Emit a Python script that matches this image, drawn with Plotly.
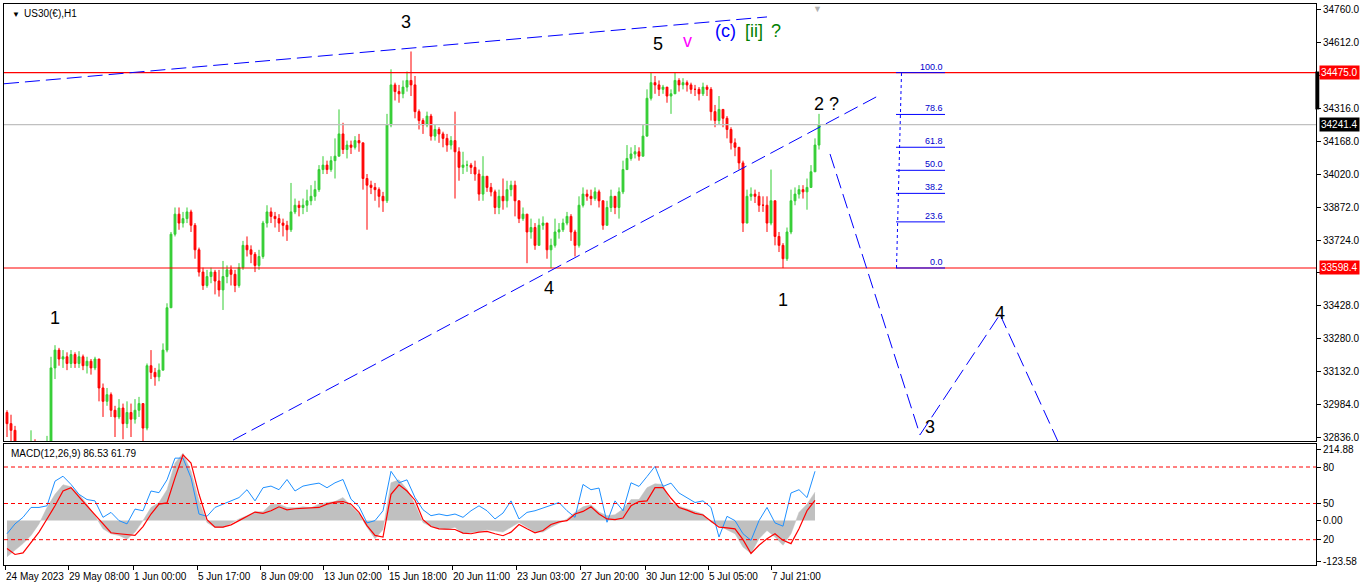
import plotly.graph_objects as go

# ---------------- DATA (4-hour buckets of the H1 chart) -------------
first_open = 32950
closes = [32900, 32870, 32810, 32770, 32750, 32760, 32800, 32780, 32760, 32770,
          32810, 33150, 33230, 33190, 33200, 33170, 33210, 33170, 33200, 33160,
          33180, 33150, 33190, 33060, 33000, 33030, 32960, 32930, 32970, 32900,
          32950, 32920, 32960, 32990, 32880, 33160, 33130, 33110, 33140, 33230,
          33420, 33750, 33840, 33800, 33820, 33850, 33790, 33680, 33580, 33520,
          33560, 33580, 33540, 33500, 33560, 33590, 33570, 33520, 33600, 33700,
          33680, 33660, 33610, 33650, 33800, 33850, 33830, 33820, 33800, 33790,
          33770, 33850, 33880, 33870, 33880, 33900, 33920, 33950, 34040, 34060,
          34040, 34080, 34100, 34200, 34130, 34150, 34140, 34170, 34160, 34000,
          33970, 33960, 33950, 33920, 33900, 34240, 34420, 34390, 34380, 34410,
          34440, 34420, 34300, 34260, 34240, 34280, 34190, 34220, 34200, 34180,
          34150, 34170, 34120, 34050, 34060, 34060, 34050, 34020, 33930, 34010,
          33960, 33940, 33870, 33920, 33900, 33950, 33970, 33900, 33820, 33840,
          33760, 33780, 33700, 33790, 33800, 33680, 33700, 33760, 33770, 33800,
          33830, 33760, 33700, 33880, 33930, 33920, 33910, 33940, 33900, 33790,
          33870, 33920, 33870, 33940, 34040, 34090, 34110, 34120, 34100, 34190,
          34360, 34430, 34420, 34400, 34410, 34370, 34380, 34440, 34420, 34430,
          34420, 34400, 34400, 34380, 34410, 34400, 34300, 34260, 34310, 34270,
          34220, 34160, 34140, 34070, 33800, 33920, 33930, 33920, 33880, 33880,
          33800, 33900, 33740, 33700, 33640, 33760, 33900, 33930, 33950, 33940,
          33960, 34030, 34150, 34241.4]
highs = [32960, 32940, 32890, 32820, 32800, 32810, 32870, 32830, 32800, 32810,
         32845, 33200, 33252, 33240, 33230, 33220, 33230, 33220, 33225, 33210,
         33200, 33190, 33200, 33160, 33080, 33060, 33040, 32980, 33010, 32990,
         33000, 32990, 33010, 33020, 32990, 33170, 33230, 33150, 33170, 33260,
         33440, 33760, 33870, 33870, 33850, 33870, 33860, 33800, 33690, 33600,
         33590, 33600, 33590, 33590, 33630, 33610, 33610, 33590, 33620, 33720,
         33740, 33700, 33670, 33680, 33810, 33880, 33870, 33850, 33840, 33820,
         33810, 33980, 33910, 33900, 33910, 33950, 33970, 33990, 34060, 34100,
         34080, 34100, 34180, 34310, 34250, 34170, 34170, 34190, 34200, 34160,
         34020, 33990, 33980, 33960, 33940, 34290, 34490, 34430, 34420, 34440,
         34480, 34570, 34460, 34310, 34270, 34300, 34290, 34240, 34230, 34210,
         34200, 34190, 34300, 34140, 34120, 34080, 34070, 34080, 34040, 34100,
         34010, 33980, 33950, 33950, 34000, 33990, 33990, 33990, 33860, 33870,
         33840, 33820, 33800, 33820, 33830, 33790, 33730, 33820, 33800, 33820,
         33850, 33840, 33770, 33920, 33960, 33950, 33950, 33960, 33950, 33900,
         33900, 33950, 33920, 33960, 34080, 34150, 34140, 34150, 34140, 34240,
         34400, 34475, 34460, 34440, 34420, 34410, 34400, 34475, 34450, 34450,
         34440, 34430, 34420, 34410, 34430, 34420, 34410, 34330, 34370, 34310,
         34280, 34230, 34180, 34140, 34080, 33950, 33960, 33950, 33940, 33920,
         33920, 34040, 33900, 33760, 33710, 33780, 33950, 33960, 33970, 33970,
         34000, 34060, 34180, 34290]
lows = [32840, 32820, 32760, 32730, 32710, 32720, 32760, 32740, 32720, 32730,
        32770, 32800, 33100, 33160, 33150, 33140, 33150, 33150, 33150, 33140,
        33125, 33120, 33140, 33000, 32930, 32980, 32930, 32840, 32920, 32830,
        32880, 32840, 32900, 32930, 32820, 32870, 33100, 33070, 33090, 33140,
        33220, 33420, 33740, 33770, 33780, 33800, 33760, 33640, 33560, 33500,
        33510, 33530, 33480, 33470, 33410, 33530, 33520, 33490, 33510, 33590,
        33650, 33620, 33580, 33590, 33640, 33780, 33800, 33780, 33760, 33740,
        33720, 33760, 33840, 33830, 33840, 33850, 33880, 33900, 33940, 34020,
        34020, 34030, 34000, 34130, 34110, 34090, 34110, 34130, 34120, 33950,
        33770, 33930, 33900, 33870, 33850, 33890, 34230, 34350, 34340, 34360,
        34390, 34370, 34270, 34220, 34200, 34230, 34170, 34170, 34160, 34140,
        34120, 34130, 33910, 33990, 34020, 34030, 34020, 33990, 33900, 33900,
        33940, 33920, 33840, 33840, 33860, 33870, 33920, 33830, 33800, 33810,
        33620, 33730, 33680, 33700, 33770, 33640, 33598, 33690, 33730, 33760,
        33790, 33720, 33650, 33690, 33870, 33900, 33880, 33900, 33870, 33770,
        33790, 33850, 33840, 33820, 33930, 34050, 34080, 34090, 34080, 34100,
        34190, 34350, 34380, 34370, 34380, 34340, 34290, 34380, 34390, 34400,
        34390, 34380, 34370, 34350, 34370, 34370, 34260, 34230, 34240, 34230,
        34180, 34130, 34100, 34040, 33760, 33830, 33900, 33890, 33850, 33850,
        33760, 33790, 33700, 33670, 33598, 33630, 33750, 33880, 33910, 33910,
        33860, 33960, 34030, 34130]

# MACD panel, one value per 8 hours
macd_hist = [-110, -90, -70, -45, -10, 40, 80, 109, 103, 80,
             50, 15, -25, -40, -45, -57, -35, 0, 40, 55,
             94, 175, 205, 150, 60, -6, -21, -21, -8, 5,
             15, 27, 27, 50, 50, 40, 39, 42, 39, 50,
             55, 58, 70, 45, 20, -20, -55, -27, 115, 124,
             95, 50, -6, -18, -25, -27, -20, -40, -37, -33,
             -28, -32, -35, -20, -6, -20, -35, -35, -20, -8,
             5, 25, 42, 48, 26, 15, 18, 35, 64, 64,
             100, 112, 110, 55, 44, 36, 28, 20, -5, -15,
             -28, -40, -80, -100, -55, -30, -50, -75, -40, 25,
             50, 86.53]
macd_signal = [-85, -103, -98, -65, -35, 5, 45, 90, 100, 72,
               45, 18, -12, -37, -40, -42, -45, -18, 20, 50,
               54, 130, 200, 175, 80, 3, -20, -20, -13, 0,
               13, 26, 22, 30, 42, 33, 36, 38, 38, 40,
               50, 56, 58, 50, 25, -15, -45, -50, 80, 109,
               90, 62, 3, -18, -25, -27, -27, -38, -40, -35,
               -33, -40, -46, -35, -12, -25, -37, -30, -12, -4,
               0, 20, 28, 42, 20, 5, 3, 8, 45, 58,
               60, 100, 100, 68, 40, 32, 22, 17, -2, -20,
               -22, -25, -58, -100, -75, -55, -40, -60, -70, -25,
               30, 61.79]
blue_line = [-40, -10, 10, 40, 40, 45, 120, 135, 110, 80,
             64, 60, 10, 25, 0, -10, 35, 30, 90, 85,
             124, 190, 190, 130, 20, 13, 40, 50, 58, 70,
             94, 60, 100, 105, 94, 125, 90, 105, 110, 114,
             100, 115, 125, 65, 43, -7, 0, 30, 150, 115,
             124, 70, 33, 15, 20, 15, 20, 10, 30, 45,
             30, 5, 23, 60, 5, 25, 30, 38, 48, 55,
             30, 10, 110, 94, 99, -5, 60, 30, 115, 104,
             134, 165, 104, 114, 84, 70, 55, 60, 40, -50,
             13, 0, -40, -60, 0, 40, -7, -17, 84, 94,
             70, 150]

date_labels = ["24 May 2023", "29 May 08:00", "1 Jun 00:00", "5 Jun 17:00", "8 Jun 09:00",
               "13 Jun 02:00", "15 Jun 18:00", "20 Jun 11:00", "23 Jun 03:00", "27 Jun 20:00",
               "30 Jun 12:00", "5 Jul 05:00", "7 Jul 21:00"]
date_hours = [0, 63, 128, 192, 255, 318, 383, 447, 511, 575, 640, 703, 766]

price_ticks = [34760, 34612, 34464, 34316, 34168, 34020, 33872, 33724, 33576, 33428,
               33280, 33132, 32984, 32836]
hidden_ticks = [34464, 33576]
level_high = 34475.0
level_low = 33598.4
last_price = 34241.4
fib_levels = [100.0, 78.6, 61.8, 50.0, 38.2, 23.6, 0.0]
macd_levels = [163, 52, -58]
macd_level_text = ["80", "50", "20"]

# ---------------- BUILD ---------------------------------------------------------------
n = len(closes)
hours = [4 * i + 2 for i in range(n)]
opens = [first_open] + closes[:-1]
highs_f = [max(h, o, c) for h, o, c in zip(highs, opens, closes)]
lows_f = [min(l, o, c) for l, o, c in zip(lows, opens, closes)]
macd_x = [hours[2 * j] for j in range(len(macd_hist))]

X_RANGE = [-1, 1311]
Y_RANGE = [32822, 34783]
M_RANGE = [-135, 233]


def px_h(px):
    return px - 5


def py_p(py):
    return 34475 - (py - 72.7) * 4.488


fig = go.Figure()
fig.add_trace(go.Candlestick(
    x=hours, open=opens, high=highs_f, low=lows_f, close=closes,
    increasing=dict(line=dict(color="#32CD32", width=1), fillcolor="#32CD32"),
    decreasing=dict(line=dict(color="#FF0000", width=1), fillcolor="#FF0000"),
    whiskerwidth=0, showlegend=False, hoverinfo="skip", xaxis="x", yaxis="y"))

fig.add_trace(go.Scatter(x=macd_x, y=macd_hist, mode="lines", fill="tozeroy", fillcolor="#C0C0C0",
                         line=dict(color="#C0C0C0", width=0.5),
                         showlegend=False, hoverinfo="skip", xaxis="x2", yaxis="y2"))
fig.add_trace(go.Scatter(x=macd_x, y=blue_line, mode="lines", line=dict(color="#1E90FF", width=1),
                         showlegend=False, hoverinfo="skip", xaxis="x2", yaxis="y2"))
fig.add_trace(go.Scatter(x=macd_x, y=macd_signal, mode="lines", line=dict(color="#FF0000", width=1.2),
                         showlegend=False, hoverinfo="skip", xaxis="x2", yaxis="y2"))

shapes = []
for lv, col in [(level_high, "#FF0000"), (level_low, "#FF0000"), (last_price, "#C0C0C0")]:
    shapes.append(dict(type="line", xref="paper", yref="y", x0=0, x1=1, y0=lv, y1=lv,
                       line=dict(color=col, width=1.2)))
tl_dash = "15px,6px"
shapes.append(dict(type="line", xref="x", yref="y", x0=-1, y0=34425, x1=762, y1=34725,
                   line=dict(color="#0000FF", width=1, dash=tl_dash)))
shapes.append(dict(type="line", xref="x", yref="y", x0=228, y0=32826, x1=875, y1=34375,
                   line=dict(color="#0000FF", width=1, dash=tl_dash)))
path_pts = [(825, 34110), (915, 32850), (995, 33390), (1055, 32800)]
for (xa, ya), (xb, yb) in zip(path_pts[:-1], path_pts[1:]):
    shapes.append(dict(type="line", xref="x", yref="y", x0=xa, y0=ya, x1=xb, y1=yb,
                       line=dict(color="#0000FF", width=1, dash=tl_dash)))
rng = level_high - level_low
shapes.append(dict(type="line", xref="x", yref="y", x0=891.5, y0=level_low, x1=896.5, y1=level_high,
                   line=dict(color="#0000FF", width=1, dash="3px,3px")))
for f in fib_levels:
    lv = level_low + rng * f / 100
    shapes.append(dict(type="line", xref="x", yref="y", x0=891, x1=940, y0=lv, y1=lv,
                       line=dict(color="#0000FF", width=1)))
for lv in macd_levels:
    shapes.append(dict(type="line", xref="paper", yref="y2", x0=0, x1=1, y0=lv, y1=lv,
                       line=dict(color="#FF0000", width=1, dash="4px,3px")))
shapes.append(dict(type="rect", xref="paper", yref="y", x0=0.9995, x1=1.0025, y0=34310, y1=34480,
                   fillcolor="black", line=dict(width=0)))

ann = []
font_w = "Liberation Sans, Arial, sans-serif"
for txt, px, py, col in [("3", 406, 22, "black"), ("5", 658, 44, "black"), ("v", 687, 41, "#FF00FF"),
                         ("(c)", 725, 31, "#0000FF"), ("[ii]", 754, 31, "#008000"), ("?", 776, 31, "#008000"),
                         ("2 ?", 826, 104, "black"), ("1", 55, 318, "black"), ("4", 549, 288, "black"),
                         ("1", 783, 300, "black"), ("3", 930, 427, "black"), ("4", 1000, 313, "black")]:
    ann.append(dict(x=px_h(px), y=py_p(py), xref="x", yref="y", text=txt, showarrow=False,
                    font=dict(family=font_w, size=18, color=col), xanchor="center", yanchor="middle"))
for f in fib_levels:
    lv = level_low + rng * f / 100
    ann.append(dict(x=940, y=lv, xref="x", yref="y", text=f"{f:.1f}", showarrow=False,
                    font=dict(family=font_w, size=9, color="#0000CC"), xanchor="right", yanchor="bottom",
                    yshift=-1))
for lv, bg in [(level_high, "#FF0000"), (level_low, "#FF0000"), (last_price, "#000000")]:
    ann.append(dict(x=1, y=lv, xref="paper", yref="y", text=f"{lv:.1f}", showarrow=False,
                    font=dict(family=font_w, size=10, color="white"), bgcolor=bg, borderpad=1,
                    xanchor="left", yanchor="middle", xshift=3))
for lab, h in zip(date_labels, date_hours):
    ann.append(dict(x=h, y=0, xref="x2", yref="paper", text=lab, showarrow=False,
                    font=dict(family=font_w, size=10, color="black"), xanchor="left", yanchor="middle",
                    yshift=-11, xshift=-1))
ann.append(dict(x=0, y=1, xref="paper", yref="paper", text="▼", showarrow=False,
                font=dict(family=font_w, size=8, color="black"), xanchor="left", yanchor="top",
                xshift=6, yshift=-4))
ann.append(dict(x=0, y=1, xref="paper", yref="paper", text="US30(€),H1", showarrow=False,
                font=dict(family=font_w, size=10, color="black"), xanchor="left", yanchor="top",
                xshift=18, yshift=-2))
ann.append(dict(x=0, y=1, xref="paper", yref="y2 domain", text="MACD(12,26,9) 86.53 61.79", showarrow=False,
                font=dict(family=font_w, size=10, color="black"), xanchor="left", yanchor="top",
                xshift=5, yshift=-2))
ann.append(dict(x=px_h(817), y=1, xref="x", yref="paper", text="▼", showarrow=False,
                font=dict(family=font_w, size=9, color="#B0B0B0"), xanchor="center", yanchor="top",
                yshift=2))

axis_common = dict(showgrid=False, zeroline=False, showline=True, mirror=True, linecolor="black",
                   linewidth=1, automargin=False)
fig.update_layout(
    width=1366, height=588,
    margin=dict(l=4, r=50, t=4, b=23),
    paper_bgcolor="white", plot_bgcolor="white",
    font=dict(family=font_w, size=10, color="black"),
    boxgap=0.35,
    xaxis=dict(domain=[0, 1], range=X_RANGE, anchor="y", showticklabels=False, ticks="",
               rangeslider=dict(visible=False), **axis_common),
    yaxis=dict(domain=[0.221, 1], range=Y_RANGE, side="right", anchor="x",
               tickvals=price_ticks,
               ticktext=["" if v in hidden_ticks else f"{v:.1f}" for v in price_ticks],
               ticks="outside", ticklen=4, tickcolor="black", tickfont=dict(size=10), **axis_common),
    xaxis2=dict(domain=[0, 1], range=X_RANGE, anchor="y2", tickvals=date_hours,
                ticktext=["" for _ in date_hours], ticks="outside", ticklen=4, tickcolor="black",
                **axis_common),
    yaxis2=dict(domain=[0, 0.2157], range=M_RANGE, side="right", anchor="x2",
                tickvals=[214.88, 163, 52, 0, -58, -123.58],
                ticktext=["214.88", "80", "50", "0.00", "20", "-123.58"],
                ticks="outside", ticklen=4, tickcolor="black", tickfont=dict(size=10), **axis_common),
    shapes=shapes, annotations=ann,
)

fig.write_html("out.html", config={"displayModeBar": False},
               post_script="document.body.style.margin='0px';document.body.style.overflow='hidden';")
